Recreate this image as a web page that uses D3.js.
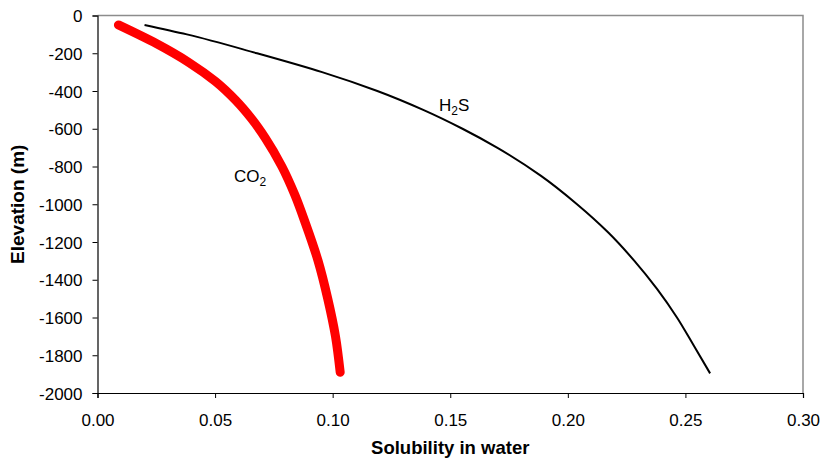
<!DOCTYPE html>
<html>
<head>
<meta charset="utf-8">
<script src="https://cdn.jsdelivr.net/npm/d3@7"></script>
<style>
  body { margin: 0; background: #fff; }
  svg text { font-family: Arial, "Liberation Sans", sans-serif; fill: #000; }
</style>
</head>
<body>
<div id="chart"></div>
<script>
// values
var co2Elevation = [-50, -150, -250, -350, -450, -550, -650, -800, -950, -1100, -1300, -1500, -1700, -1890];
var co2Solubility = [0.0089, 0.0252, 0.0390, 0.0502, 0.0588, 0.0657, 0.0714, 0.0784, 0.0839, 0.0884, 0.0938, 0.0979, 0.1012, 0.1032];

var h2sElevation = [-50, -100, -200, -300, -400, -500, -600, -700, -850, -1000, -1150, -1300, -1450, -1600, -1750, -1896];
var h2sSolubility = [0.0200, 0.0380, 0.0678, 0.0955, 0.1190, 0.1385, 0.1552, 0.1699, 0.1886, 0.2039, 0.2172, 0.2283, 0.2380, 0.2464, 0.2536, 0.2605];

var xTicks = [0, 0.05, 0.10, 0.15, 0.20, 0.25, 0.30];
var yTicks = [0, -200, -400, -600, -800, -1000, -1200, -1400, -1600, -1800, -2000];

var width = 826, height = 464;
var plotLeft = 97.5, plotTop = 15.5, plotRight = 803, plotBottom = 393;

var svg = d3.select("#chart").append("svg")
  .attr("width", width)
  .attr("height", height);

var x = d3.scaleLinear().domain([0, 0.30]).range([plotLeft, plotRight]);
var y = d3.scaleLinear().domain([-2000, 0]).range([plotBottom, plotTop]);

// grey frame on top and right
svg.append("path")
  .attr("d", "M" + plotLeft + "," + plotTop + "H" + plotRight + "V" + plotBottom)
  .attr("fill", "none")
  .attr("stroke", "#8c8c8c")
  .attr("stroke-width", 1.5);

var xAxis = svg.append("g")
  .attr("transform", "translate(0," + plotBottom + ")")
  .call(d3.axisBottom(x).tickValues(xTicks).tickFormat(d3.format(".2f")).tickSize(5).tickPadding(16));

var yAxis = svg.append("g")
  .attr("transform", "translate(" + plotLeft + ",0)")
  .call(d3.axisLeft(y).tickValues(yTicks).tickFormat(function(d) { return d; }).tickSize(5).tickPadding(10));

svg.selectAll(".domain").attr("stroke", "#000").attr("stroke-width", 1.2);
svg.selectAll(".tick line").attr("stroke", "#000");
svg.selectAll(".tick text")
  .style("font-size", "17px")
  .style("font-family", "Arial, 'Liberation Sans', sans-serif");
yAxis.selectAll(".tick text").attr("dy", "0.36em");

// elevation decreases down the page, so the curves are monotone in screen y
var line = d3.line()
  .x(function(d) { return x(d[0]); })
  .y(function(d) { return y(d[1]); })
  .curve(d3.curveMonotoneY);

svg.append("path")
  .datum(d3.zip(h2sSolubility, h2sElevation))
  .attr("d", line)
  .attr("fill", "none")
  .attr("stroke", "#000")
  .attr("stroke-width", 2);

svg.append("path")
  .datum(d3.zip(co2Solubility, co2Elevation))
  .attr("d", line)
  .attr("fill", "none")
  .attr("stroke", "#ff0000")
  .attr("stroke-width", 9)
  .attr("stroke-linecap", "round")
  .attr("stroke-linejoin", "round");

// curve labels
var co2Label = svg.append("text")
  .attr("x", 234)
  .attr("y", 182)
  .style("font-size", "17px");
co2Label.append("tspan").text("CO");
co2Label.append("tspan").attr("dy", 4).style("font-size", "12px").text("2");

var h2sLabel = svg.append("text")
  .attr("x", 439)
  .attr("y", 111)
  .style("font-size", "17px");
h2sLabel.append("tspan").text("H");
h2sLabel.append("tspan").attr("dy", 4).style("font-size", "12px").text("2");
h2sLabel.append("tspan").attr("dy", -4).text("S");

// axis titles
svg.append("text")
  .attr("x", (plotLeft + plotRight) / 2)
  .attr("y", 454)
  .attr("text-anchor", "middle")
  .style("font-size", "18.5px")
  .style("font-weight", "bold")
  .text("Solubility in water");

svg.append("text")
  .attr("transform", "translate(24," + ((plotTop + plotBottom) / 2) + ") rotate(-90)")
  .attr("text-anchor", "middle")
  .style("font-size", "19px")
  .style("font-weight", "bold")
  .text("Elevation (m)");
</script>
</body>
</html>
